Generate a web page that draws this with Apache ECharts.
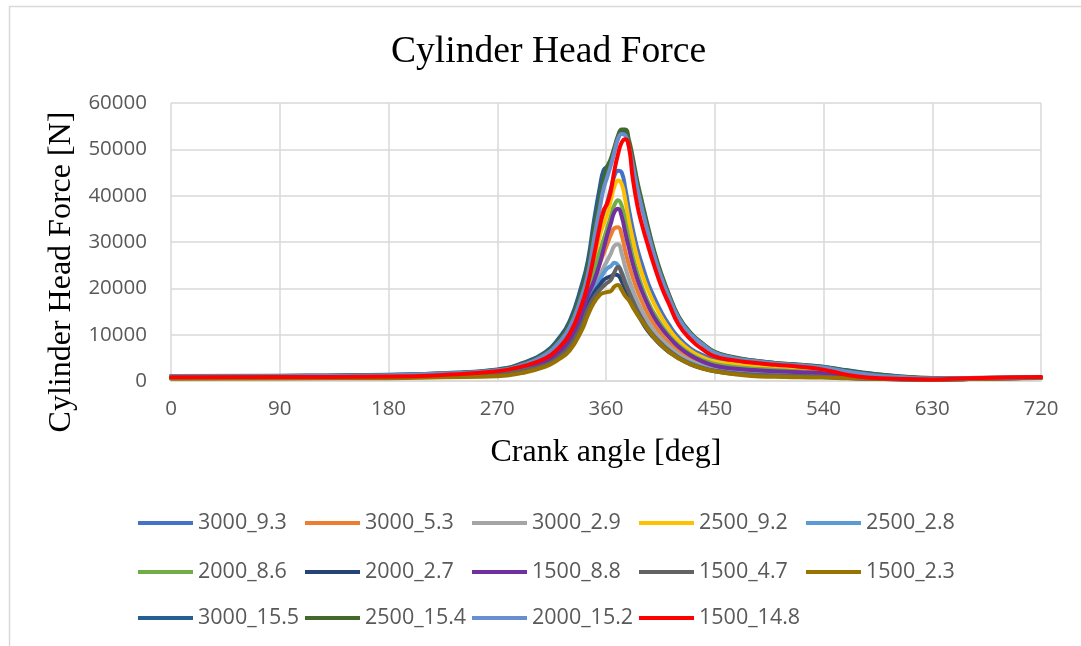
<!DOCTYPE html>
<html>
<head>
<meta charset="utf-8">
<script src="https://cdn.jsdelivr.net/npm/echarts@6/dist/echarts.min.js"></script>
<style>
html,body{margin:0;padding:0;background:#fff;}
#chart{width:1081px;height:646px;}
</style>
</head>
<body>
<div id="chart"></div>
<script>
// Crank angle [deg]
const angles = [0, 90, 180, 225, 270, 290, 310, 320, 330, 340, 345, 350, 355, 358, 361, 364, 367, 370, 373, 376, 379, 382, 386, 390, 395, 400, 406, 412, 420, 430, 440, 450, 465, 480, 500, 520, 540, 560, 580, 600, 630, 660, 690, 720];

const xTicks = [0, 90, 180, 270, 360, 450, 540, 630, 720];
const yTicks = [0, 10000, 20000, 30000, 40000, 50000, 60000];

const seriesNames = ['3000_9.3', '3000_5.3', '3000_2.9', '2500_9.2', '2500_2.8', '2000_8.6', '2000_2.7', '1500_8.8', '1500_4.7', '1500_2.3', '3000_15.5', '2500_15.4', '2000_15.2', '1500_14.8'];

const s3000_9_3 = [900, 950, 1100, 1450, 2200, 3200, 5000, 7000, 10200, 16500, 21000, 26500, 32000, 35500, 38500, 41500, 44300, 45400, 45000, 41500, 37000, 33000, 28500, 25000, 21000, 18000, 14800, 12200, 9400, 7000, 5600, 4600, 3800, 3400, 3000, 2700, 2200, 1400, 900, 650, 450, 550, 700, 800];
const s3000_5_3 = [750, 800, 950, 1250, 1900, 2700, 4300, 6100, 9000, 14800, 18500, 22000, 25500, 27500, 29500, 31500, 33000, 33200, 31500, 28000, 25000, 22500, 19500, 17000, 14300, 12200, 10000, 8300, 6500, 4800, 3700, 2800, 2300, 2000, 1800, 1600, 1300, 800, 550, 450, 350, 450, 600, 700];
const s3000_2_9 = [700, 750, 900, 1200, 1800, 2500, 4000, 5700, 8400, 13800, 17300, 20500, 23000, 24500, 26000, 27500, 29200, 29500, 27500, 24500, 22000, 19800, 17200, 15000, 12700, 10800, 9000, 7500, 5800, 4300, 3300, 2500, 2000, 1700, 1500, 1300, 1100, 750, 550, 450, 350, 450, 600, 700];
const s2500_9_2 = [850, 900, 1050, 1400, 2100, 3000, 4700, 6600, 9700, 15800, 20500, 26000, 31500, 33800, 36000, 39000, 42000, 43300, 42500, 39000, 34500, 30800, 26500, 23000, 19500, 16600, 13700, 11300, 8700, 6500, 5100, 4200, 3600, 3200, 2800, 2500, 2000, 1200, 800, 600, 400, 500, 650, 750];
const s2500_2_8 = [680, 720, 870, 1150, 1750, 2450, 3900, 5500, 8200, 13300, 16700, 19700, 22000, 23300, 24300, 24800, 25500, 25000, 23500, 21500, 19500, 17600, 15300, 13400, 11300, 9700, 8100, 6700, 5200, 3900, 3000, 2300, 1800, 1500, 1300, 1200, 1000, 700, 500, 400, 300, 450, 600, 700];
const s2000_8_6 = [800, 850, 1000, 1300, 2000, 2900, 4500, 6300, 9300, 15200, 20000, 24000, 28000, 30500, 33000, 35500, 38000, 39000, 37800, 34300, 30500, 27000, 23300, 20200, 17000, 14500, 12000, 9900, 7700, 5800, 4500, 3700, 3100, 2700, 2400, 2100, 1700, 1000, 700, 550, 400, 500, 650, 750];
const s2000_2_7 = [640, 700, 850, 1120, 1650, 2350, 3700, 5200, 7800, 12800, 16200, 19000, 20800, 21800, 22300, 22600, 23000, 22800, 21500, 19800, 18100, 16500, 14500, 12700, 10700, 9200, 7600, 6300, 4900, 3600, 2700, 2100, 1600, 1300, 1100, 1000, 850, 650, 500, 400, 300, 450, 600, 700];
const s1500_8_8 = [700, 750, 900, 1200, 1800, 2600, 4200, 6000, 8800, 14500, 18500, 21500, 25500, 28500, 31500, 34000, 36500, 37200, 35500, 32000, 28700, 25500, 22000, 19200, 16200, 13700, 11400, 9500, 7400, 5500, 4200, 3300, 2700, 2400, 2100, 1900, 1700, 1000, 650, 500, 350, 450, 600, 700];
const s1500_4_7 = [620, 680, 820, 1100, 1600, 2300, 3500, 5000, 7500, 12200, 15500, 18000, 19700, 20500, 21200, 21800, 23500, 24600, 23200, 21000, 19200, 17400, 15200, 13300, 11200, 9600, 8000, 6600, 5100, 3700, 2800, 2200, 1700, 1400, 1200, 1050, 900, 650, 500, 400, 300, 450, 600, 700];
const s1500_2_3 = [500, 560, 600, 800, 1000, 1700, 3100, 4500, 6600, 11000, 14200, 16900, 18600, 19000, 19200, 19400, 20400, 20700, 19600, 18300, 17400, 16000, 14300, 12800, 11000, 9300, 7700, 6300, 4900, 3600, 2700, 2100, 1500, 1100, 900, 800, 750, 600, 500, 450, 300, 450, 550, 650];
const s3000_15_5 = [1100, 1150, 1350, 1700, 2500, 3800, 6300, 8900, 13000, 20800, 26000, 34500, 42000, 45500, 46300, 47300, 49800, 52500, 53800, 53500, 51000, 47500, 42000, 37800, 32500, 27500, 22500, 18500, 13800, 10300, 8000, 6200, 5100, 4500, 3900, 3500, 3100, 2300, 1600, 1100, 650, 650, 700, 800];
const s2500_15_4 = [1050, 1100, 1300, 1650, 2400, 3600, 6000, 8500, 12300, 19500, 24500, 32500, 39500, 43500, 46200, 48000, 50500, 53000, 54300, 54300, 52000, 48500, 43000, 38500, 33000, 28000, 23000, 18800, 14000, 10400, 8100, 6300, 5200, 4500, 3900, 3500, 3050, 2200, 1500, 1050, 650, 650, 700, 800];
const s2000_15_2 = [1000, 1050, 1250, 1600, 2300, 3400, 5700, 8000, 11600, 18400, 23000, 30500, 37500, 41500, 44000, 46500, 49500, 52300, 53300, 53000, 50500, 46800, 41500, 37000, 31800, 27000, 22200, 18200, 13600, 10100, 7900, 6100, 5000, 4400, 3800, 3400, 2900, 2000, 1300, 900, 550, 600, 700, 800];
const s1500_14_8 = [800, 850, 950, 1300, 2100, 3100, 4900, 6900, 10200, 16500, 21000, 27000, 33500, 36800, 38300, 41000, 45500, 49000, 51500, 52200, 50500, 44000, 37800, 33500, 29000, 24800, 20300, 16700, 12200, 9000, 6800, 5300, 4500, 4000, 3500, 3100, 2450, 1300, 700, 500, 350, 600, 750, 850];

const seriesValues = [s3000_9_3, s3000_5_3, s3000_2_9, s2500_9_2, s2500_2_8, s2000_8_6, s2000_2_7, s1500_8_8, s1500_4_7, s1500_2_3, s3000_15_5, s2500_15_4, s2000_15_2, s1500_14_8];

const colors = ['#4472C4', '#ED7D31', '#A5A5A5', '#FFC000', '#5B9BD5', '#70AD47', '#264478', '#7030A0', '#636363', '#997300', '#255E91', '#43682B', '#698ED0', '#FF0000'];

// legend rows (5 + 5 + 4 entries, like the reference)
const legendRows = [seriesNames.slice(0, 5), seriesNames.slice(5, 10), seriesNames.slice(10)];
const legendTops = [503, 552, 598];

const chart = echarts.init(document.getElementById('chart'));
const sansFont = '"Open Sans", "Liberation Sans", sans-serif';
const serifFont = '"Liberation Serif", "Times New Roman", serif';

chart.setOption({
  animation: false,
  backgroundColor: '#ffffff',
  color: colors,
  title: {
    text: 'Cylinder Head Force',
    left: 391,
    top: 33,
    padding: 0,
    textStyle: { fontFamily: serifFont, fontSize: 37.6, fontWeight: 'normal', color: '#000000' }
  },
  graphic: [{
    type: 'rect',
    silent: true,
    shape: { x: 9.5, y: 6.5, width: 1200, height: 800 },
    style: { fill: 'none', stroke: '#d9d9d9', lineWidth: 1.5 }
  }],
  grid: { left: 171, right: 40, top: 103, bottom: 265, containLabel: false },
  xAxis: {
    type: 'value',
    min: 0, max: 720, interval: 90,
    name: 'Crank angle [deg]',
    nameLocation: 'middle',
    nameGap: 56,
    nameTextStyle: { fontFamily: serifFont, fontSize: 32, color: '#000000' },
    axisLine: { show: true, lineStyle: { color: '#d9d9d9', width: 1.5 } },
    axisTick: { show: false },
    axisLabel: { fontFamily: sansFont, fontSize: 20.5, color: '#595959', margin: 18 },
    splitLine: { show: true, lineStyle: { color: '#d9d9d9', width: 1.5 } }
  },
  yAxis: {
    type: 'value',
    min: 0, max: 60000, interval: 10000,
    name: 'Cylinder Head Force [N]',
    nameLocation: 'middle',
    nameGap: 92,
    nameTextStyle: { fontFamily: serifFont, fontSize: 32, color: '#000000', padding: [0, 60, 0, 0] },
    axisLine: { show: false },
    axisTick: { show: false },
    axisLabel: { fontFamily: sansFont, fontSize: 20.5, color: '#595959', margin: 24, formatter: v => String(v) },
    splitLine: { show: true, lineStyle: { color: '#d9d9d9', width: 1.5 } }
  },
  legend: legendRows.map((row, r) => ({
    left: 138,
    top: legendTops[r],
    padding: 0,
    itemGap: 4,
    itemWidth: 55,
    itemHeight: 4,
    icon: 'rect',
    data: row,
    textStyle: { fontFamily: sansFont, fontSize: 21.5, color: '#595959', lineHeight: 40, width: 103 }
  })),
  series: seriesNames.map((name, i) => ({
    name: name,
    type: 'line',
    showSymbol: false,
    smooth: true,
    data: angles.map((a, j) => [a, seriesValues[i][j]]),
    lineStyle: { width: 4, cap: 'round', join: 'round' },
    emphasis: { disabled: true }
  }))
});
</script>
</body>
</html>
